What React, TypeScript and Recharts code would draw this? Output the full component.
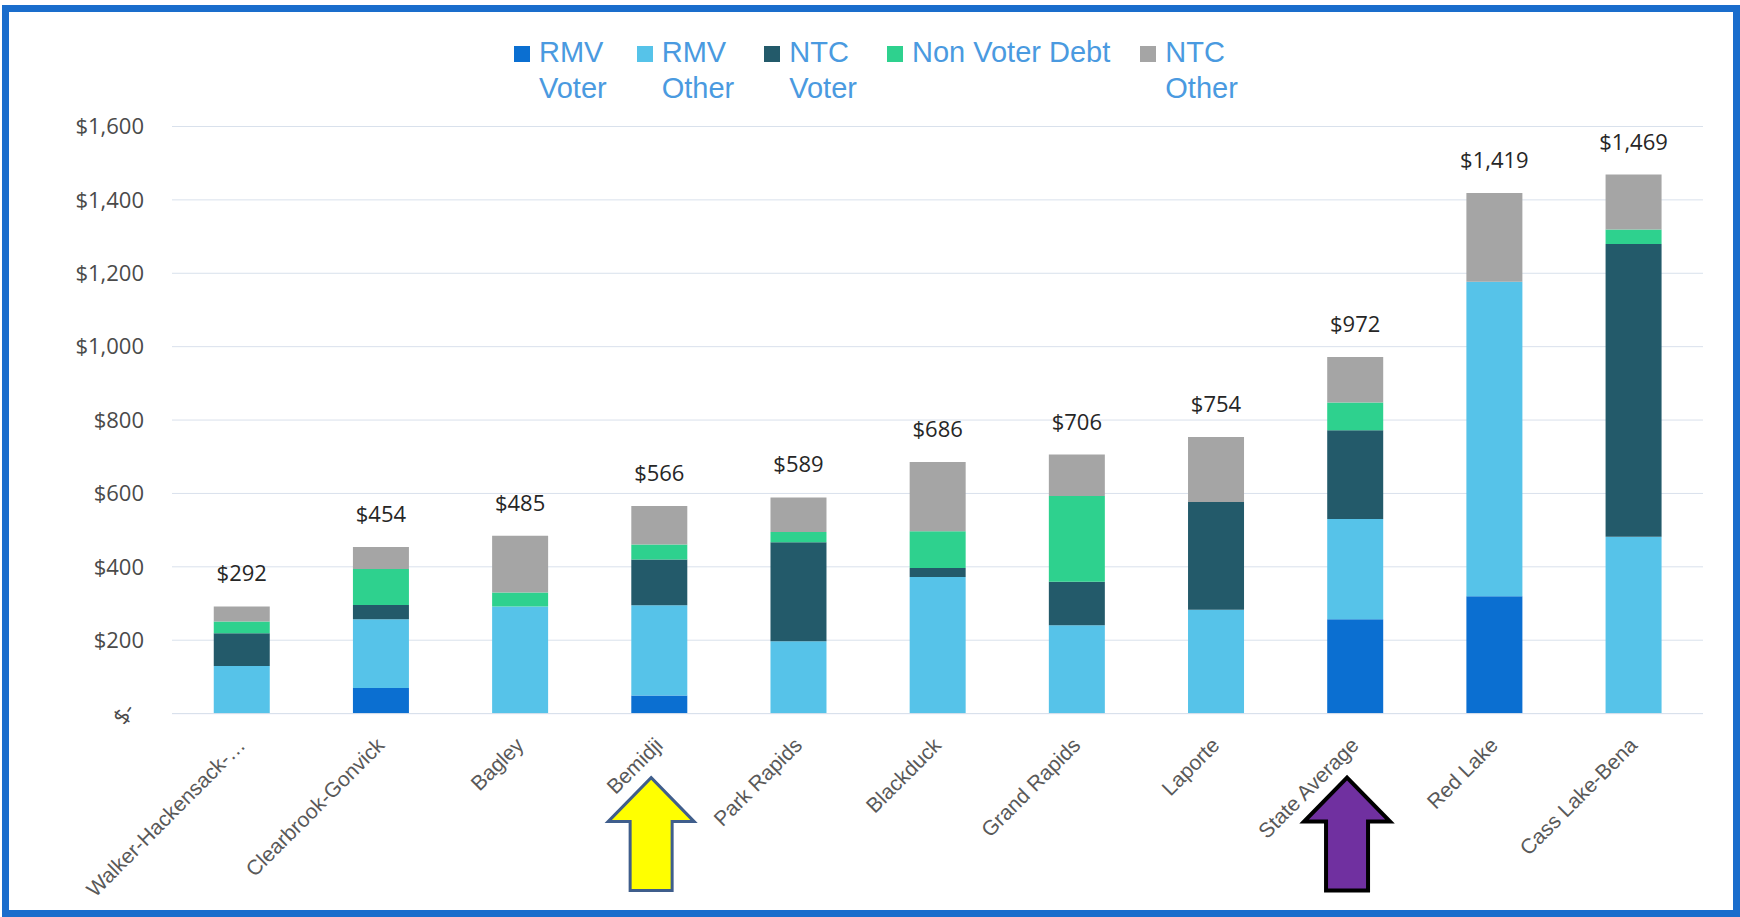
import { BarChart, Bar, XAxis, YAxis, CartesianGrid, LabelList } from "recharts"

const categories = [
  "Walker-Hackensack-…",
  "Clearbrook-Gonvick",
  "Bagley",
  "Bemidji",
  "Park Rapids",
  "Blackduck",
  "Grand Rapids",
  "Laporte",
  "State Average",
  "Red Lake",
  "Cass Lake-Bena",
]

const rmvVoter = [0, 70, 0, 49, 0, 0, 0, 0, 257, 320, 0]
const rmvOther = [130, 187, 292, 246, 197, 372, 241, 283, 273, 857, 482]
const ntcVoter = [89, 39, 0, 125, 270, 25, 118, 294, 242, 0, 798]
const nonVoterDebt = [32, 98, 38, 41, 28, 100, 234, 0, 76, 0, 39]
const ntcOther = [41, 60, 155, 105, 94, 189, 113, 177, 124, 242, 150]
const totals = [292, 454, 485, 566, 589, 686, 706, 754, 972, 1419, 1469]

const yTicks = [0, 200, 400, 600, 800, 1000, 1200, 1400, 1600]

const series = [
  { key: "rmvVoter", name: "RMV Voter", lines: ["RMV", "Voter"], color: "#0b6fd1" },
  { key: "rmvOther", name: "RMV Other", lines: ["RMV", "Other"], color: "#56c3e9" },
  { key: "ntcVoter", name: "NTC Voter", lines: ["NTC", "Voter"], color: "#235a6a" },
  { key: "nonVoterDebt", name: "Non Voter Debt", lines: ["Non Voter Debt"], color: "#2ed18e" },
  { key: "ntcOther", name: "NTC Other", lines: ["NTC", "Other"], color: "#a5a5a5" },
]

// arrows drawn under two of the categories
const arrowMarks = [
  { name: "Bemidji", fill: "#ffff00", stroke: "#3f5e8c", width: 3 },
  { name: "State Average", fill: "#7030a0", stroke: "#000000", width: 4 },
]

const data = categories.map((name, i) => ({
  name,
  rmvVoter: rmvVoter[i],
  rmvOther: rmvOther[i],
  ntcVoter: ntcVoter[i],
  nonVoterDebt: nonVoterDebt[i],
  ntcOther: ntcOther[i],
  total: totals[i],
}))

const money = (v: number) => (v === 0 ? "$-" : "$" + v.toLocaleString("en-US"))

function ValueTick({ x, y, payload }: any) {
  if (payload.value === 0) {
    return (
      <text
        transform={`translate(${x - 20},${y}) rotate(-55)`}
        textAnchor="middle"
        dy="0.355em"
        fill="#4a4a4a"
        fontSize={22}
        fontFamily="'Open Sans', sans-serif"
      >
        {money(0)}
      </text>
    )
  }
  return (
    <text x={x} y={y} dy="0.355em" textAnchor="end" fill="#4a4a4a" fontSize={22} fontFamily="'Open Sans', sans-serif">
      {money(payload.value)}
    </text>
  )
}

function CategoryTick({ x, y, payload }: any) {
  const mark = arrowMarks.find((m) => m.name === payload.value)
  const dx = -8
  const pts = [
    [dx, 64],
    [dx + 43, 108],
    [dx + 21, 108],
    [dx + 21, 177],
    [dx - 21, 177],
    [dx - 21, 108],
    [dx - 43, 108],
  ]
    .map((p) => `${x + p[0]},${y + p[1]}`)
    .join(" ")
  return (
    <g>
      {mark && <polygon points={pts} fill={mark.fill} stroke={mark.stroke} strokeWidth={mark.width} strokeLinejoin="miter" />}
      <text
        transform={`translate(${x + 5},${y + 33}) rotate(-45)`}
        textAnchor="end"
        fill="#595959"
        fontSize={21}
        fontFamily="'Liberation Sans', Arial, sans-serif"
      >
        {payload.value}
      </text>
    </g>
  )
}

function ChartLegend() {
  return (
    <div
      style={{
        position: "absolute",
        left: 514,
        top: 35,
        display: "flex",
        gap: 30,
        fontFamily: "'Liberation Sans', Arial, sans-serif",
        fontSize: 29,
        lineHeight: "35.5px",
        color: "#4a9ae0",
      }}
    >
      {series.map((s) => (
        <div key={s.key} style={{ display: "flex", alignItems: "flex-start" }}>
          <div style={{ width: 16, height: 16, background: s.color, marginTop: 11, marginRight: 9 }} />
          <div>
            {s.lines.map((l) => (
              <div key={l} style={{ whiteSpace: "nowrap" }}>
                {l}
              </div>
            ))}
          </div>
        </div>
      ))}
    </div>
  )
}

export default function App() {
  return (
    <div style={{ position: "absolute", left: 0, top: 0, width: 1740, height: 917, background: "#ffffff", overflow: "hidden" }}>
      <div
        style={{
          position: "absolute",
          left: 2,
          top: 5,
          width: 1738,
          height: 912,
          border: "7px solid #1a6dcc",
          boxSizing: "border-box",
        }}
      />
      <div style={{ position: "absolute", left: 0, top: 0 }}>
        <BarChart width={1740} height={917} data={data} margin={{ top: 126.5, right: 37, bottom: 0, left: 0 }} barCategoryGap="30%">
          <CartesianGrid vertical={false} stroke="#d9e1ec" />
          <XAxis
            dataKey="name"
            height={203.4}
            interval={0}
            tickLine={false}
            tickSize={0}
            tickMargin={0}
            axisLine={{ stroke: "#d9e1ec" }}
            tick={<CategoryTick />}
          />
          <YAxis
            width={172}
            domain={[0, 1600]}
            ticks={yTicks}
            interval={0}
            tickLine={false}
            axisLine={false}
            tickSize={0}
            tickMargin={28}
            tick={<ValueTick />}
          />
          {series.map((s, i) => (
            <Bar key={s.key} dataKey={s.key} name={s.name} stackId="a" fill={s.color} isAnimationActive={false}>
              {i === series.length - 1 && (
                <LabelList
                  dataKey="total"
                  position="top"
                  offset={25}
                  formatter={(v: any) => money(Number(v))}
                  fill="#262626"
                  fontSize={22}
                  fontFamily="'Open Sans', sans-serif"
                />
              )}
            </Bar>
          ))}
        </BarChart>
      </div>
      <ChartLegend />
    </div>
  )
}
